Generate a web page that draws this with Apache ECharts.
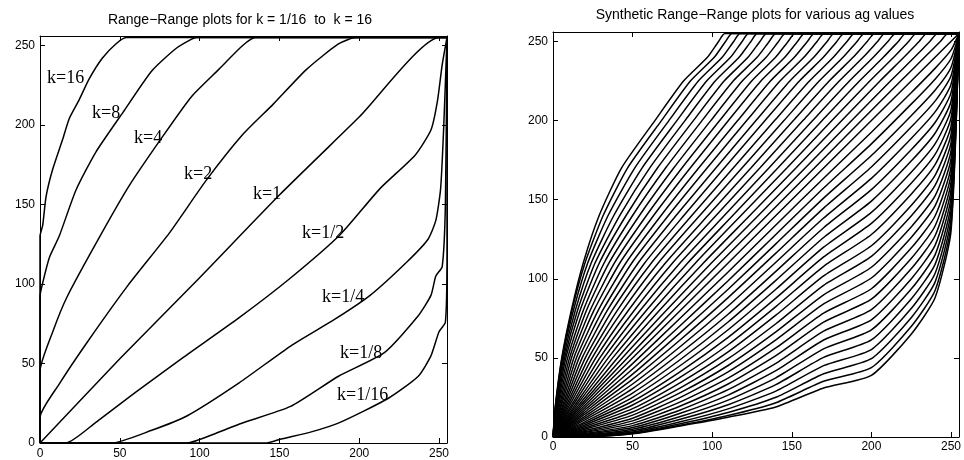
<!DOCTYPE html>
<html><head><meta charset="utf-8">
<script src="https://cdn.jsdelivr.net/npm/echarts/dist/echarts.min.js"></script>
<style>html,body{margin:0;padding:0;background:#fff}#c{width:964px;height:460px}</style>
</head><body><div id="c"></div>
<script>
// ---------- tick labels ----------
const tickValues = [0, 50, 100, 150, 200, 250];

// ---------- left panel: range-range curves (x, y) ----------
const curveNames = ['k=16','k=8','k=4','k=2','k=1','k=1/2','k=1/4','k=1/8','k=1/16'];
const k16  = [[0,0],[0,130],[1.7,137],[3.8,155],[7.9,172],[14.2,191],[18.3,204],[24.6,216],[30.8,229],[39,242],[47.5,251],[54,255],[255,255]];
const k8   = [[0,0],[0,92],[2,102],[6,117],[12,130],[22.5,159],[35,183],[52,208],[70,234],[85,248],[95,254],[98,255],[255,255]];
const k4   = [[0,0],[0,45],[8,70],[17,92],[37,129],[56,162],[77,193],[95,218],[112,235],[127,250],[135,255],[255,255]];
const k2   = [[0,0],[0,16],[12,37],[30,64],[55,99],[81,132],[104,165],[127,194],[146,213],[167,235],[187,251],[198,255],[255,255]];
const k1   = [[0,0],[50,53],[100,104],[150,156],[200,205],[250,255],[255,255]];
const k1_2 = [[0,0],[16,0],[35,13],[60,32],[90,54],[125,79],[156,103],[188,131],[213,160],[235,181],[245,197],[249,215],[252,238],[255,255]];
const k1_4 = [[0,0],[45,0],[70,8],[92,17],[125,38],[157,61],[185,78],[207,93],[230,114],[243,128],[248,140],[251,160],[253,200],[255,255]];
const k1_8 = [[0,0],[92,0],[110,6],[125,12],[157,23],[187,42],[216,57],[237,80],[245,93],[248,105],[252,111],[254,150],[255,255]];
const k1_16= [[0,0],[142,0],[151,2.5],[170,7],[188,13],[218,28],[237,42],[245,55],[250,70],[254,76],[255,120],[255,255]];

// ---------- right panel: synthetic curves ----------
// lower family: y values read at these x positions (one entry per curve, nearest-diagonal first)
const lowX = [20, 50, 80, 110, 140, 170, 200, 225, 240, 250];
const low20  = [18.5,17.1,15.7,14.4,13.1,11.9,10.8,9.6,8.6,7.6,6.6,5.7,4.9,4.1,3.4,2.8,2.2,1.7,1.2,0.8,0.5,0.2,0.1,0];
const low50  = [46.4,43.0,39.7,36.6,33.5,30.6,27.8,25.1,22.6,20.2,17.9,15.8,13.8,11.9,10.2,8.6,7.2,6.0,4.9,3.9,3.1,2.5,2.2,2];
const low80  = [75.2,70.5,66.0,61.5,57.2,53.1,49.0,45.2,41.4,37.8,34.4,31.1,28.0,25.0,22.2,19.6,17.1,15.0,12.9,11.2,9.6,8.4,7.4,7];
const low110 = [104.3,98.8,93.4,88.1,82.8,77.6,72.7,67.8,63.0,58.3,53.8,49.5,45.2,41.2,37.2,33.5,29.9,26.5,23.3,20.4,17.8,15.5,13.6,12.5];
const low140 = [134.0,128.0,122.1,116.2,110.5,104.7,99.0,93.4,87.8,82.4,77.0,71.6,66.4,61.4,56.3,51.4,46.6,41.9,37.4,33.1,29.0,25.1,21.7,19];
const low170 = [163.6,157.4,151.0,144.7,138.4,132.3,126.1,120.0,113.8,107.9,101.8,95.9,89.9,84.1,78.3,72.6,66.9,61.3,55.7,50.3,45.1,40.0,35.2,31];
const low200 = [192.6,185.3,177.9,170.7,163.5,156.4,149.1,142.0,135.0,128.0,120.9,114.2,107.3,100.5,93.7,87.1,80.5,74.1,67.7,61.4,55.3,49.5,43.9,39];
const low225 = [217.6,210.4,203.1,195.9,188.7,181.6,174.4,167.4,160.4,153.5,146.4,139.7,132.8,126.1,119.4,112.8,106.3,99.9,93.5,87.2,81.2,75.4,69.8,65];
const low240 = [233.0,226.2,219.2,212.3,205.5,198.8,192.0,185.3,178.6,172.1,165.4,159.0,152.4,146.1,139.7,133.4,127.2,121.1,115.1,109.1,103.4,97.9,92.6,88];
const low250 = [244.5,239.1,233.6,228.2,222.8,217.5,212.1,206.8,201.5,196.4,191.1,186.0,180.9,175.8,170.8,165.9,161.0,156.2,151.4,146.7,142.2,137.8,133.6,130];
// upper family: x values read at these y positions
const upY = [20, 50, 80, 110, 140, 170, 200, 225, 240, 250, 255];
const up20  = [18.6,17.3,16.0,14.8,13.7,12.5,11.5,10.4,9.4,8.5,7.6,6.8,6.1,5.3,4.7,4.1,3.5,3.0,2.6,2.2,1.9,1.7,1.6,1.5];
const up50  = [46.7,43.5,40.5,37.5,34.7,32.0,29.4,26.9,24.6,22.4,20.3,18.3,16.4,14.7,13.1,11.6,10.4,9.2,8.1,7.3,6.6,6.0,5.7,5.5];
const up80  = [75.5,71.1,66.8,62.7,58.6,54.7,51.0,47.3,43.8,40.4,37.2,34.1,31.2,28.4,25.7,23.3,21.0,19.0,17.0,15.4,14.0,12.8,11.9,11.5];
const up110 = [104.7,99.5,94.5,89.5,84.6,79.8,75.1,70.6,66.1,61.8,57.6,53.5,49.5,45.8,42.0,38.6,35.2,32.1,29.1,26.4,24.0,21.8,20.1,19];
const up140 = [134.5,129.0,123.6,118.1,112.9,107.6,102.4,97.3,92.2,87.2,82.2,77.3,72.5,67.9,63.2,58.7,54.3,50.0,45.9,41.9,38.2,34.6,31.5,29];
const up170 = [164.2,158.4,152.6,146.9,141.2,135.6,129.9,124.3,118.7,113.2,107.6,102.3,96.8,91.5,86.2,81.0,75.8,70.7,65.6,60.7,55.9,51.3,46.8,43];
const up200 = [193.7,187.6,181.4,175.2,169.1,163.1,157.0,151.0,145.1,139.2,133.2,127.5,121.7,116.0,110.2,104.7,99.1,93.6,88.2,82.9,77.8,72.8,68.1,64];
const up225 = [218.4,212.0,205.4,199.0,192.5,186.2,179.8,173.5,167.2,161.1,154.8,148.8,142.6,136.6,130.6,124.8,118.9,113.2,107.5,101.9,96.5,91.3,86.3,82];
const up240 = [233.4,227.0,220.4,214.0,207.5,201.2,194.8,188.5,182.2,176.1,169.8,163.8,157.6,151.6,145.6,139.8,133.9,128.2,122.5,116.9,111.5,106.3,101.3,97];
const up250 = [243.3,236.7,230.0,223.4,216.9,210.4,203.9,197.4,191.0,184.7,178.3,172.2,165.9,159.8,153.6,147.7,141.7,135.8,130.0,124.3,118.8,113.5,108.4,104];
const up255 = [248.2,241.6,234.9,228.2,221.6,215.2,208.5,202.1,195.6,189.3,182.8,176.6,170.3,164.2,158.0,152.0,145.9,140.0,134.2,128.4,122.9,117.6,112.5,108];
const diagonal = [[0,0],[128,128],[255,255]];

const leftTitle = 'Range\u2212Range plots for k = 1/16  to  k = 16';
const rightTitle = 'Synthetic Range\u2212Range plots for various ag values';

// ---------- build ----------
const chart = echarts.init(document.getElementById('c'), null, {renderer: 'canvas'});
const FONT = 'Liberation Sans, Arial, sans-serif';

function mkAxis(gridIndex, position, labels, max, margin) {
  return {
    type: 'value', gridIndex, position, min: 0, max, interval: 50,
    axisLine: {show: true, onZero: false, lineStyle: {color: '#000', width: 1}},
    axisTick: {show: true, inside: true, length: 5, lineStyle: {color: '#000', width: 1},
               customValues: tickValues},
    axisLabel: {show: labels, color: '#000', fontSize: 12, fontFamily: FONT, margin,
                customValues: tickValues,
                formatter: v => (tickValues.indexOf(v) >= 0 ? String(v) : '')},
    splitLine: {show: false}
  };
}

const xAxes = [
  mkAxis(0, 'bottom', true, 255, 5),
  mkAxis(0, 'top', false, 255, 5),
  mkAxis(1, 'bottom', true, 255, 4),
  mkAxis(1, 'top', false, 255, 4)
];
const yAxes = [
  mkAxis(0, 'left', true, 256, 5),
  mkAxis(0, 'right', false, 256, 5),
  mkAxis(1, 'left', true, 256, 5),
  mkAxis(1, 'right', false, 256, 5)
];

function lineSeries(data, grid, width) {
  return {
    type: 'line', data, xAxisIndex: grid * 2, yAxisIndex: grid * 2,
    showSymbol: false, symbol: 'none', smooth: 0.2, silent: true, animation: false,
    lineStyle: {color: '#000', width}, clip: true
  };
}

const series = [];
[k16, k8, k4, k2, k1, k1_2, k1_4, k1_8, k1_16].forEach(c => series.push(lineSeries(c, 0, 1.5)));

const lowCols = [low20, low50, low80, low110, low140, low170, low200, low225, low240, low250];
const upCols = [up20, up50, up80, up110, up140, up170, up200, up225, up240, up250, up255];
for (let i = 0; i < low20.length; i++) {
  const d = [[0, 0]];
  lowX.forEach((x, c) => d.push([x, lowCols[c][i]]));
  d.push([255, 255]);
  series.push(lineSeries(d, 1, 1.5));
}
for (let i = 0; i < up20.length; i++) {
  const d = [[0, 0]];
  upY.forEach((y, c) => d.push([upCols[c][i], y]));
  d.push([255, 255]);
  series.push(lineSeries(d, 1, 1.5));
}
series.push(lineSeries(diagonal, 1, 1.5));

const labelPos = [[47,78],[92,113],[134,138],[184,174],[253,194],[302,233],[322,297],[340,353],[337,395]];
const graphic = curveNames.map((t, i) => ({
  type: 'text', x: labelPos[i][0], y: labelPos[i][1], silent: true,
  style: {text: t, font: '18px "Liberation Serif", "Times New Roman", serif', fill: '#000',
          align: 'left', verticalAlign: 'middle', textVerticalAlign: 'middle'}
}));
graphic.push({type: 'text', x: 240, y: 20, silent: true,
  style: {text: leftTitle, font: '14px ' + FONT, fill: '#000', align: 'center', textAlign: 'center', verticalAlign: 'middle', textVerticalAlign: 'middle'}});
graphic.push({type: 'text', x: 755, y: 15, silent: true,
  style: {text: rightTitle, font: '14px ' + FONT, fill: '#000', align: 'center', textAlign: 'center', verticalAlign: 'middle', textVerticalAlign: 'middle'}});

chart.setOption({
  animation: false,
  backgroundColor: '#fff',
  grid: [
    {left: 40, top: 36, width: 407, height: 407},
    {left: 553, top: 32, width: 410, height: 405}
  ],
  xAxis: xAxes,
  yAxis: yAxes,
  series,
  graphic
});
</script></body></html>
